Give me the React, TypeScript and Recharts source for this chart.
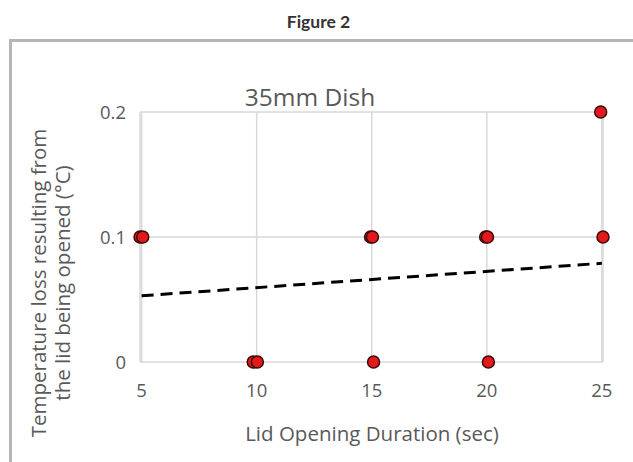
import React from "react";
import {
  ScatterChart, Scatter, XAxis, YAxis, CartesianGrid, ReferenceLine,
} from "recharts";

// lid opening duration (sec) -> temperature loss (°C); duplicates are slightly jittered in the source
const durations = [4.93, 5.05, 9.85, 10.03, 14.95, 15.03, 15.08, 19.95, 20.03, 20.07, 24.95, 25.05];
const losses = [0.1, 0.1, 0, 0, 0.1, 0.1, 0, 0.1, 0.1, 0, 0.2, 0.1];
const xTicks = [5, 10, 15, 20, 25];
const yTicks = [0, 0.1, 0.2];
const trendStart = { x: 5, y: 0.053 };
const trendEnd = { x: 25, y: 0.079 };

const points = durations.map((d, i) => ({ x: d, y: losses[i] }));

const FONT = "'Open Sans', sans-serif";
const GREY = "#595959";

const Dot = (props: any) => {
  const { cx, cy } = props;
  return <circle cx={cx} cy={cy} r={6} fill="#e3191c" stroke="#3a0a0a" strokeWidth={1.5} />;
};

export default function App() {
  return (
    <div style={{ position: "absolute", left: 0, top: 0, width: 633, height: 462, background: "#fff", overflow: "hidden", fontFamily: FONT }}>
      <div style={{ position: "absolute", top: 10, left: 0, width: 637, textAlign: "center", fontFamily: "Lato, sans-serif", fontWeight: 700, fontSize: 17.5, color: "#333", lineHeight: "24px" }}>
        Figure 2
      </div>
      <div style={{ position: "absolute", left: 9, top: 39, width: 700, height: 500, borderLeft: "3px solid #b5b5b5", borderTop: "3px solid #b5b5b5" }} />
      <div style={{ position: "absolute", left: 0, top: 81, width: 620, textAlign: "center", fontSize: 24.5, color: GREY, lineHeight: "32px" }}>
        35mm Dish
      </div>
      <div style={{ position: "absolute", left: 0, top: 419, width: 744, textAlign: "center", fontSize: 20.5, color: GREY, lineHeight: "28px" }}>
        Lid Opening Duration (sec)
      </div>
      <div style={{
        position: "absolute", left: 50, top: 283, width: 400, marginLeft: -200, marginTop: -24,
        transform: "rotate(-90deg)", textAlign: "center", fontSize: 20.5, color: GREY, lineHeight: "24px",
      }}>
        Temperature loss resulting from<br />the lid being opened (°C)
      </div>
      <div style={{ position: "absolute", left: 0, top: 0 }}>
        <ScatterChart width={633} height={462} margin={{ top: 112, right: 30, bottom: 40, left: 80 }}>
          <CartesianGrid stroke="#d9d9d9" strokeWidth={1.5} />
          <XAxis
            type="number" dataKey="x" domain={[5, 25]} ticks={xTicks}
            axisLine={false} tickLine={false} tickMargin={16} height={60}
            tick={{ fontSize: 18.5, fill: GREY, fontFamily: FONT }}
          />
          <YAxis
            type="number" dataKey="y" domain={[0, 0.2]} ticks={yTicks}
            axisLine={false} tickLine={false} tickMargin={8} width={60}
            tickFormatter={(v: number) => (v === 0 ? "0" : String(v))}
            tick={{ fontSize: 18.5, fill: GREY, fontFamily: FONT }}
          />
          <ReferenceLine
            segment={[trendStart, trendEnd]} stroke="#000" strokeWidth={3}
            strokeDasharray="12 7" ifOverflow="visible"
          />
          <Scatter data={points} shape={<Dot />} isAnimationActive={false} />
        </ScatterChart>
      </div>
    </div>
  );
}
